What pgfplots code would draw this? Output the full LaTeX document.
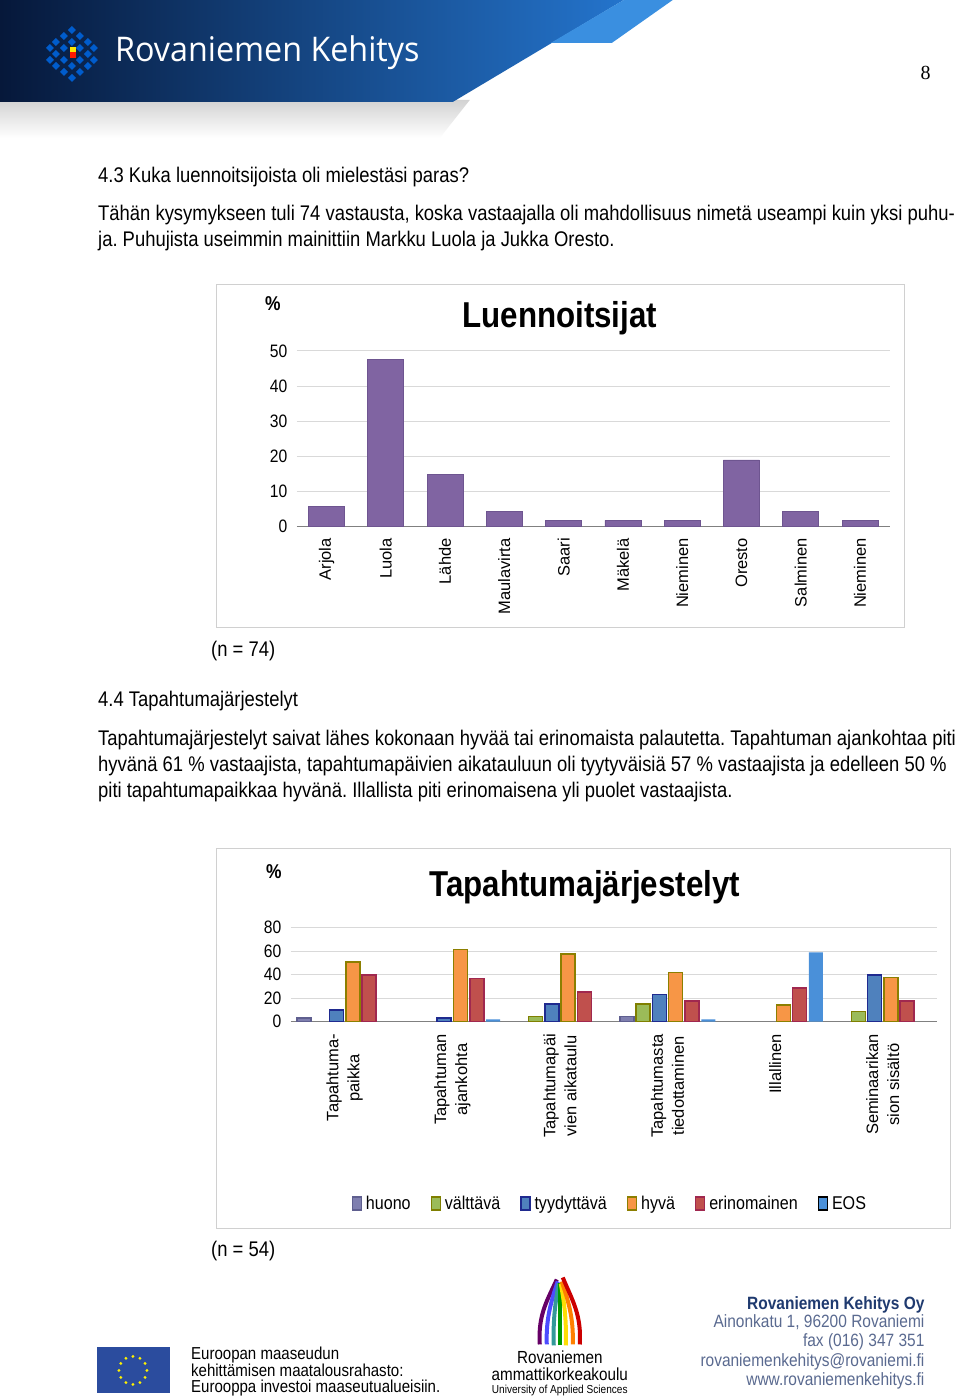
\documentclass[border=0pt]{standalone}
\usepackage{pgfplots}
\pgfplotsset{compat=1.18}
\usepackage{fontspec}
\setmainfont[FakeStretch=0.87]{Liberation Sans}
\newfontfamily\plainsans{Liberation Sans}
\newfontfamily\headfont[FakeStretch=0.95]{Open Sans}
\newfontfamily\seriffont{Liberation Serif}
\newcommand{\fs}[1]{\fontsize{#1}{#1}\selectfont}
\frenchspacing
\definecolor{lectpurple}{HTML}{8064A2}
\definecolor{lectpurpledark}{HTML}{6E5590}
\definecolor{huonoF}{HTML}{7F7FAF}
\definecolor{huonoD}{HTML}{5F5F8F}
\definecolor{valtF}{HTML}{9BBB59}
\definecolor{valtD}{HTML}{7F7F00}
\definecolor{tyydF}{HTML}{4F81BD}
\definecolor{tyydD}{HTML}{1F2A8F}
\definecolor{hyvaF}{HTML}{F79646}
\definecolor{hyvaD}{HTML}{8C7F00}
\definecolor{erinF}{HTML}{C0504D}
\definecolor{erinD}{HTML}{A0284F}
\definecolor{eosF}{HTML}{4A90D9}
\definecolor{gridgray}{HTML}{D9D9D9}
\definecolor{axisgray}{HTML}{808080}
\definecolor{framegray}{HTML}{D0D0D0}
\definecolor{bannerdark}{HTML}{06183A}
\definecolor{bannerlight}{HTML}{2474CC}
\definecolor{flap}{HTML}{3A8FE0}
\definecolor{eublue}{HTML}{2B4C9E}
\definecolor{rkdark}{HTML}{1F3A6F}
\definecolor{rkgray}{HTML}{5A6A90}
\begin{document}
\begin{tikzpicture}
\begin{scope}[x=1pt,y=-1pt]
\fill[white] (0,0) rectangle (960,1396);
% header banner
\shade[top color=gray!35, bottom color=white] (0,100) -- (470,100) -- (440,138) -- (0,138) -- cycle;
\shade[left color=bannerdark, right color=bannerlight] (0,0) -- (624,0) -- (453,102) -- (0,102) -- cycle;
\fill[flap] (551,43) -- (612,43) -- (673,0) -- (624,0) -- cycle;
% logo cubes
\foreach \px/\py in {72/30,64/36,80/36,56/42,72/42,88/42,64/48,80/48,56/54,88/54,64/60,80/60,56/66,72/66,88/66,64/72,80/72,72/78,50/48,94/48,50/60,94/60}
  \fill[blue!55!cyan!80!black] (\px,\py) ++(-4,0) -- ++(4,-4) -- ++(4,4) -- ++(-4,4) -- cycle;
\fill[red!80!orange] (70,52) rectangle (76,58);
\fill[yellow!90!orange] (70,47) rectangle (76,52);
\node[anchor=west, text=white, inner sep=0] at (115,53) {\headfont\fs{34}Rovaniemen Kehitys};
\node[anchor=base, inner sep=0] at (926,80) {\seriffont\fs{20}8};
% body text
\node[anchor=base west, inner sep=0] at (98,183) {\fs{21.2}4.3 Kuka luennoitsijoista oli mielestäsi paras?};
\node[anchor=base west, inner sep=0] at (98,221) {\fs{21.2}Tähän kysymykseen tuli 74 vastausta, koska vastaajalla oli mahdollisuus nimetä useampi kuin yksi puhu-};
\node[anchor=base west, inner sep=0] at (98,247) {\fs{21.2}ja. Puhujista useimmin mainittiin Markku Luola ja Jukka Oresto.};
\node[anchor=base west, inner sep=0] at (211,657) {\fs{21.2}(n = 74)};
\node[anchor=base west, inner sep=0] at (98,707) {\fs{21.2}4.4 Tapahtumajärjestelyt};
\node[anchor=base west, inner sep=0] at (98,746) {\fs{21.2}Tapahtumajärjestelyt saivat lähes kokonaan hyvää tai erinomaista palautetta. Tapahtuman ajankohtaa piti};
\node[anchor=base west, inner sep=0] at (98,772) {\fs{21.2}hyvänä 61 \% vastaajista, tapahtumapäivien aikatauluun oli tyytyväisiä 57 \% vastaajista ja edelleen 50 \%};
\node[anchor=base west, inner sep=0] at (98,798) {\fs{21.2}piti tapahtumapaikkaa hyvänä. Illallista piti erinomaisena yli puolet vastaajista.};
\node[anchor=base west, inner sep=0] at (211,1257) {\fs{21.2}(n = 54)};
% chart frames and titles
\draw[framegray, line width=1pt] (217,285) rectangle (905,628);
\draw[framegray, line width=1pt] (217,849) rectangle (951,1229);
\node[inner sep=0] at (273,304) {\fs{20}\bfseries\%};
\node[anchor=base, inner sep=0] at (560,328) {\fs{36}\bfseries Luennoitsijat};
\node[inner sep=0] at (274,872) {\fs{20}\bfseries\%};
\node[anchor=base, inner sep=0] at (585,897) {\fs{36}\bfseries Tapahtumajärjestelyt};
% footer: EU
\fill[eublue] (97,1348) rectangle (170,1394);
\foreach \a in {0,30,...,330} \fill[yellow] (133,1371) ++(\a:14) circle (1.6);
\node[anchor=base west, inner sep=0] at (191,1360) {\fs{17.3}Euroopan maaseudun};
\node[anchor=base west, inner sep=0] at (191,1377) {\fs{17.3}kehittämisen maatalousrahasto:};
\node[anchor=base west, inner sep=0] at (191,1393) {\fs{17.3}Eurooppa investoi maaseutualueisiin.};
% footer: middle logo
\draw[line width=4pt, violet!80!black] (540,1345) .. controls (538,1315) and (548,1300) .. (557,1280);
\draw[line width=4pt, blue!70] (547,1345) .. controls (546,1318) and (552,1300) .. (558,1282);
\draw[line width=4pt, teal!80] (554,1346) .. controls (553,1320) and (556,1300) .. (559,1284);
\draw[line width=4pt, green!60!black] (560,1346) .. controls (560,1320) and (560,1300) .. (560,1284);
\draw[line width=4pt, yellow!80!orange] (566,1346) .. controls (567,1320) and (564,1300) .. (561,1284);
\draw[line width=4pt, orange] (573,1345) .. controls (574,1318) and (568,1300) .. (562,1282);
\draw[line width=4pt, red!80!black] (580,1345) .. controls (582,1315) and (572,1300) .. (563,1278);
\node[anchor=base, inner sep=0] at (560,1364) {\fs{17.5}Rovaniemen};
\node[anchor=base, inner sep=0] at (560,1381) {\fs{17.5}ammattikorkeakoulu};
\node[anchor=base, inner sep=0] at (560,1394) {\fs{11.6}University of Applied Sciences};
% footer: right
\node[anchor=base east, inner sep=0, text=rkdark] at (925,1310) {\fs{17.8}\bfseries Rovaniemen Kehitys Oy};
\node[anchor=base east, inner sep=0, text=rkgray] at (925,1328) {\fs{17.8}Ainonkatu 1, 96200 Rovaniemi};
\node[anchor=base east, inner sep=0, text=rkgray] at (925,1347) {\fs{17.8}fax (016) 347 351};
\node[anchor=base east, inner sep=0, text=rkgray] at (925,1367) {\fs{17.8}rovaniemenkehitys@rovaniemi.fi};
\node[anchor=base east, inner sep=0, text=rkgray] at (925,1386) {\fs{17.8}www.rovaniemenkehitys.fi};
\end{scope}

% ---------- Chart 1 ----------
\begin{axis}[
  at={(297pt,-527pt)}, anchor=south west,
  scale only axis, width=593pt, height=176pt,
  xmin=-0.5, xmax=9.5, ymin=0, ymax=50,
  ybar, bar width=36pt,
  ytick={0,10,20,30,40,50},
  xtick={0,...,9},
  xticklabels={Arjola,Luola,Lähde,Maulavirta,Saari,Mäkelä,Nieminen,Oresto,Salminen,Nieminen},
  axis lines*=left,
  y axis line style={draw=none},
  x axis line style={draw=axisgray, line width=1pt},
  major tick length=0pt,
  ymajorgrids, grid style={draw=gridgray, line width=0.8pt},
  /pgf/number format/assume math mode=true,
  yticklabel style={font=\fs{18}},
  yticklabel shift=6pt,
  xticklabel style={rotate=90, anchor=east, font=\plainsans\fs{16.5}},
  xticklabel shift=8pt,
  clip=false,
]
\addplot[fill=lectpurple, draw=lectpurpledark, line width=0.6pt] coordinates {
  (0,5.8) (1,47.6) (2,15.0) (3,4.3) (4,1.8) (5,1.8) (6,1.8) (7,19.0) (8,4.3) (9,1.8)};
\end{axis}

% ---------- Chart 2 ----------
\begin{axis}[
  at={(291pt,-1022pt)}, anchor=south west,
  scale only axis, width=646pt, height=94pt,
  xmin=-0.5, xmax=5.5, ymin=0, ymax=80,
  ybar=2.3pt, bar width=14pt,
  ytick={0,20,40,60,80},
  xtick={0,...,5},
  xticklabels={{Tapahtuma-\\paikka},{Tapahtuman\\ajankohta},{Tapahtumapäi\\vien aikataulu},{Tapahtumasta\\tiedottaminen},{Illallinen},{Seminaarikan\\sion sisältö}},
  axis lines*=left,
  y axis line style={draw=none},
  x axis line style={draw=axisgray, line width=1pt},
  major tick length=0pt,
  ymajorgrids, grid style={draw=gridgray, line width=0.8pt},
  /pgf/number format/assume math mode=true,
  yticklabel style={font=\fs{18}},
  yticklabel shift=6pt,
  xticklabel style={rotate=90, anchor=east, align=center, font=\plainsans\fontsize{16.5}{21}\selectfont},
  xticklabel shift=9pt,
  clip=false,
  legend style={at={(0.494,-1.936)}, anchor=center, draw=none, fill=none, legend columns=6,
    font=\fs{18.5}, /tikz/every even column/.append style={column sep=18pt},
    /tikz/every odd column/.append style={column sep=2pt}},
  legend image code/.code={\draw[#1, line width=1.2pt] (0pt,-6.5pt) rectangle (9pt,6.5pt);},
]
\addplot[fill=huonoF, draw=huonoD, line width=1.5pt] coordinates {(0,3.1) (3,4.3)};
\addplot[fill=valtF, draw=valtD, line width=1.5pt] coordinates {(2,4.3) (3,15.1) (5,8.6)};
\addplot[fill=tyydF, draw=tyydD, line width=1.5pt] coordinates {(0,10.0) (1,3.1) (2,15.1) (3,22.9) (5,39.7)};
\addplot[fill=hyvaF, draw=hyvaD, line width=1.5pt] coordinates {(0,50.9) (1,61.4) (2,57.4) (3,41.7) (4,14.0) (5,37.4)};
\addplot[fill=erinF, draw=erinD, line width=1.5pt] coordinates {(0,39.7) (1,36.6) (2,25.1) (3,17.7) (4,28.6) (5,17.7)};
\addplot[fill=eosF, draw=none] coordinates {(1,1.8) (3,1.8) (4,58.9)};
\legend{huono,välttävä,tyydyttävä,hyvä,erinomainen,EOS}
\end{axis}
\end{tikzpicture}
\end{document}
